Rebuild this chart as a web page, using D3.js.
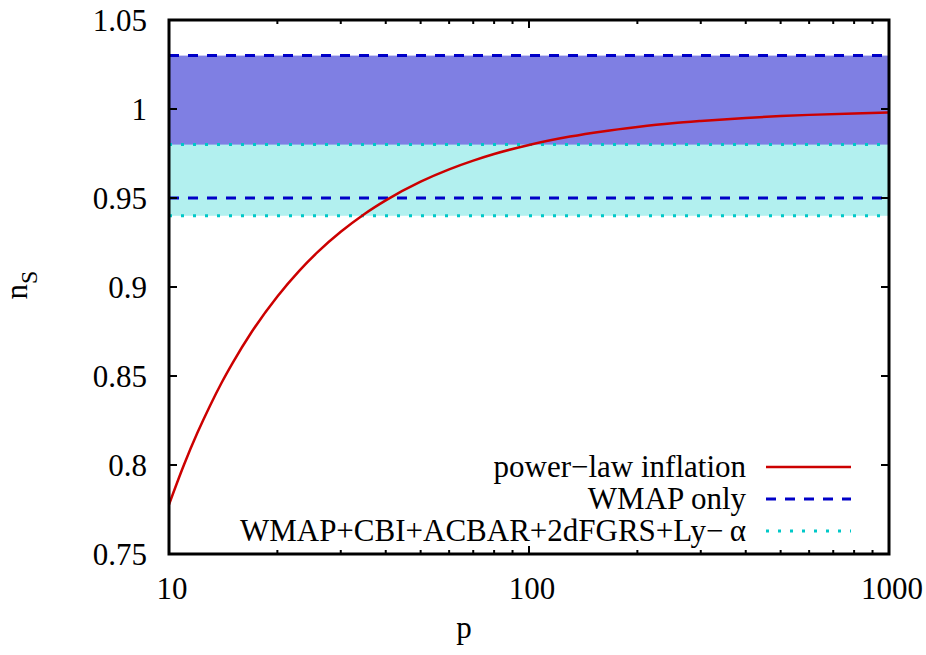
<!doctype html>
<html lang="en">
<head>
  <meta charset="utf-8">
  <title>n_S vs p</title>
  <script type="text/javascript" src="https://cdnjs.cloudflare.com/ajax/libs/d3/7.8.5/d3.min.js"></script>
  <style>
    body { margin: 0; background: #fff; }
    text { fill: #000; }
  </style>
</head>
<body>
  <svg width="926" height="655" id="svg" font-family="Liberation Serif, Times New Roman, serif"></svg>
<script type="text/javascript">

  // power-law inflation curve
  var pValues = [10, 11, 12, 13, 14, 15, 17, 20, 23, 26, 30, 35, 40, 50, 60, 70, 80, 100,
                 130, 160, 200, 250, 300, 400, 500, 600, 800, 1000];
  var nsValues = [0.7778, 0.8000, 0.8182, 0.8333, 0.8462, 0.8571, 0.8750, 0.8947, 0.9091, 0.9200,
                  0.9310, 0.9412, 0.9487, 0.9592, 0.9661, 0.9710, 0.9747, 0.9798, 0.9845, 0.9874,
                  0.9899, 0.9920, 0.9933, 0.9950, 0.9960, 0.9967, 0.9975, 0.9980];

  // observational bands (lower, upper)
  var wmapBand = [0.95, 1.03];
  var comboBand = [0.94, 0.98];

  var legendLabels = ['power\u2212law inflation', 'WMAP only', 'WMAP+CBI+ACBAR+2dFGRS+Ly\u2212\u2009\u03b1'];

  var yTicks = [0.75, 0.8, 0.85, 0.9, 0.95, 1, 1.05];
  var xMajor = [10, 100, 1000];

  var mLeft = 169, mRight = 889, mTop = 20, mBottom = 554;
  var fontSize = '31px';

  var x = d3.scaleLog().domain([10, 1000]).range([mLeft, mRight]);
  var y = d3.scaleLinear().domain([0.75, 1.05]).range([mBottom, mTop]);

  var svg = d3.select('#svg');

  /* bands first, WMAP underneath */
  svg.append('rect')
    .attr('x', mLeft).attr('width', mRight - mLeft)
    .attr('y', y(wmapBand[1])).attr('height', y(wmapBand[0]) - y(wmapBand[1]))
    .attr('fill', '#7f7fe3');

  svg.append('rect')
    .attr('x', mLeft).attr('width', mRight - mLeft)
    .attr('y', y(comboBand[1])).attr('height', y(comboBand[0]) - y(comboBand[1]))
    .attr('fill', '#b2f0ef');

  // band borders
  comboBand.forEach(function(v) {
    svg.append('line')
      .attr('x1', mLeft).attr('x2', mRight)
      .attr('y1', y(v)).attr('y2', y(v))
      .attr('stroke', '#00c8c8').attr('stroke-width', 3)
      .attr('stroke-dasharray', '3,9');
  });
  wmapBand.forEach(function(v) {
    svg.append('line')
      .attr('x1', mLeft).attr('x2', mRight)
      .attr('y1', y(v)).attr('y2', y(v))
      .attr('stroke', '#0000c8').attr('stroke-width', 3)
      .attr('stroke-dasharray', '10,9');
  });

  // curve
  var line = d3.line()
    .x(function(d) { return x(d[0]); })
    .y(function(d) { return y(d[1]); })
    .curve(d3.curveMonotoneX);

  svg.append('path')
    .datum(d3.zip(pValues, nsValues))
    .attr('d', line)
    .attr('fill', 'none')
    .attr('stroke', '#cc0000')
    .attr('stroke-width', 2.5);

  /* ticks */
  var tickG = svg.append('g').attr('stroke', '#000').attr('stroke-width', 2);

  yTicks.forEach(function(t) {
    tickG.append('line').attr('x1', mLeft).attr('x2', mLeft + 8).attr('y1', y(t)).attr('y2', y(t));
    tickG.append('line').attr('x1', mRight).attr('x2', mRight - 8).attr('y1', y(t)).attr('y2', y(t));
  });

  x.ticks().forEach(function(t) {
    var len = xMajor.indexOf(t) >= 0 ? 8 : 4;
    tickG.append('line').attr('x1', x(t)).attr('x2', x(t)).attr('y1', mBottom).attr('y2', mBottom - len);
    tickG.append('line').attr('x1', x(t)).attr('x2', x(t)).attr('y1', mTop).attr('y2', mTop + len);
  });

  // frame
  svg.append('rect')
    .attr('x', mLeft).attr('y', mTop)
    .attr('width', mRight - mLeft).attr('height', mBottom - mTop)
    .attr('fill', 'none').attr('stroke', '#000').attr('stroke-width', 3);

  /* tick labels */
  svg.selectAll('.ylab').data(yTicks).enter().append('text')
    .attr('x', 147).attr('y', function(d) { return y(d); })
    .attr('dy', '0.35em')
    .attr('text-anchor', 'end')
    .style('font-size', fontSize)
    .text(function(d) { return d; });

  svg.selectAll('.xlab').data(xMajor).enter().append('text')
    .attr('x', function(d) { return x(d) + 3; }).attr('y', 599)
    .attr('text-anchor', 'middle')
    .style('font-size', fontSize)
    .text(function(d) { return d; });

  // axis titles
  svg.append('text')
    .attr('x', 464).attr('y', 638)
    .attr('text-anchor', 'middle')
    .style('font-size', fontSize)
    .text('p');

  var ylab = svg.append('text')
    .attr('transform', 'translate(27,285) rotate(-90)')
    .attr('text-anchor', 'middle')
    .style('font-size', fontSize);
  ylab.append('tspan').text('n');
  ylab.append('tspan').attr('dy', 10).style('font-size', '24px').text('S');

  /* legend */
  var legendStyles = [
    { stroke: '#cc0000', dash: null, width: 2.5 },
    { stroke: '#0000c8', dash: '10,9', width: 3 },
    { stroke: '#00c8c8', dash: '3,9', width: 3 }
  ];
  legendLabels.forEach(function(lbl, i) {
    var ly = 467 + i * 32;
    svg.append('text')
      .attr('x', 746).attr('y', ly + 10)
      .attr('text-anchor', 'end')
      .style('font-size', fontSize)
      .text(lbl);
    svg.append('line')
      .attr('x1', 766).attr('x2', 851)
      .attr('y1', ly).attr('y2', ly)
      .attr('stroke', legendStyles[i].stroke)
      .attr('stroke-width', legendStyles[i].width)
      .attr('stroke-dasharray', legendStyles[i].dash);
  });

</script>
</body>
</html>
